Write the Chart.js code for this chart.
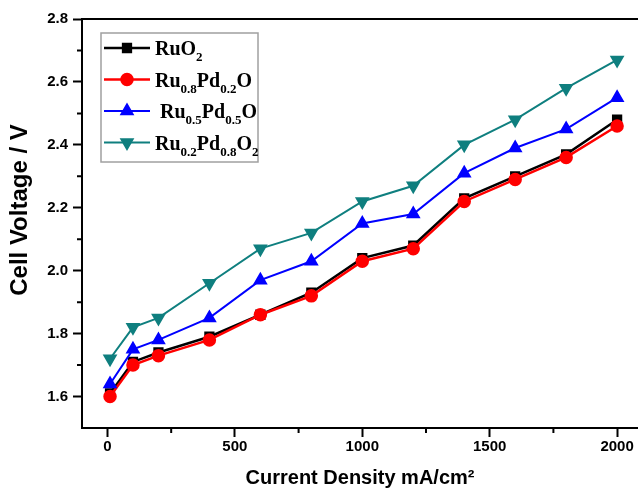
<!DOCTYPE html>
<html>
<head>
<meta charset="utf-8">
<script src="https://cdn.jsdelivr.net/npm/chart.js@4/dist/chart.umd.min.js"></script>
<style>
  html, body { margin: 0; padding: 0; background: #fff; }
  #wrap { width: 638px; height: 490px; }
</style>
</head>
<body>
<div id="wrap"><canvas id="cell"></canvas></div>
<script>
// Current density (mA/cm2)
const currentDensity = [10, 100, 200, 400, 600, 800, 1000, 1200, 1400, 1600, 1800, 2000];

// Cell voltage (V) for each catalyst
const ruO2      = [1.61, 1.71, 1.74, 1.79, 1.86, 1.93, 2.04, 2.08, 2.23, 2.30, 2.37, 2.48];
const ru08pd02  = [1.60, 1.70, 1.73, 1.78, 1.86, 1.92, 2.03, 2.07, 2.22, 2.29, 2.36, 2.46];
const ru05pd05  = [1.64, 1.75, 1.78, 1.85, 1.97, 2.03, 2.15, 2.18, 2.31, 2.39, 2.45, 2.55];
const ru02pd08  = [1.72, 1.82, 1.85, 1.96, 2.07, 2.12, 2.22, 2.27, 2.40, 2.48, 2.58, 2.67];

// tick labels
const xTicks = [0, 500, 1000, 1500, 2000];
const xMinor = [250, 750, 1250, 1750];
const yTicks = [1.6, 1.8, 2.0, 2.2, 2.4, 2.6, 2.8];
const yMinor = [1.7, 1.9, 2.1, 2.3, 2.5, 2.7];

// legend labels: [text, isSubscript]
const legendLabels = [
    [['RuO', 0], ['2', 1]],
    [['Ru', 0], ['0.8', 1], ['Pd', 0], ['0.2', 1], ['O', 0]],
    [[' Ru', 0], ['0.5', 1], ['Pd', 0], ['0.5', 1], ['O', 0]],
    [['Ru', 0], ['0.2', 1], ['Pd', 0], ['0.8', 1], ['O', 0], ['2', 1]]
];

function pts(ys) {
    return currentDensity.map((x, i) => ({ x: x, y: ys[i] }));
}

// draws minor ticks, the top frame line, the y title and the legend box
const framePlugin = {
    id: 'frame',
    afterDraw(chart) {
        const ctx = chart.ctx;
        const area = chart.chartArea;
        const xs = chart.scales.x, ys = chart.scales.y;
        ctx.save();
        ctx.strokeStyle = '#000';
        ctx.lineWidth = 2;
        ctx.beginPath();
        ctx.moveTo(area.left - 1, area.top);
        ctx.lineTo(area.right, area.top);
        xMinor.forEach(v => {
            const px = xs.getPixelForValue(v);
            ctx.moveTo(px, area.bottom);
            ctx.lineTo(px, area.bottom + 5);
        });
        yMinor.forEach(v => {
            const py = ys.getPixelForValue(v);
            ctx.moveTo(area.left, py);
            ctx.lineTo(area.left - 5, py);
        });
        ctx.stroke();

        // y axis title
        ctx.save();
        ctx.translate(20, 210);
        ctx.rotate(-Math.PI / 2);
        ctx.fillStyle = '#000';
        ctx.font = 'bold 24px "Liberation Sans"';
        ctx.textAlign = 'center';
        ctx.textBaseline = 'middle';
        ctx.fillText('Cell Voltage / V', 0, 0);
        ctx.restore();

        // legend
        const bx = 101, by = 33, bw = 157, bh = 129;
        ctx.fillStyle = '#fff';
        ctx.fillRect(bx, by, bw, bh);
        ctx.strokeStyle = '#a0a0a0';
        ctx.lineWidth = 1.5;
        ctx.strokeRect(bx, by, bw, bh);

        chart.data.datasets.forEach((ds, i) => {
            const cy = 48 + i * 31.5;
            ctx.strokeStyle = ds.borderColor;
            ctx.lineWidth = ds.borderWidth;
            ctx.beginPath();
            ctx.moveTo(104, cy);
            ctx.lineTo(150, cy);
            ctx.stroke();
            ctx.fillStyle = ds.backgroundColor;
            Chart.helpers.drawPoint(ctx, {
                pointStyle: ds.pointStyle,
                rotation: ds.pointRotation || 0,
                radius: ds.pointRadius,
                borderWidth: 1
            }, 127, cy);

            let tx = 155;
            const base = cy + 7;
            ctx.fillStyle = '#000';
            ctx.textBaseline = 'alphabetic';
            ctx.textAlign = 'left';
            legendLabels[i].forEach(seg => {
                ctx.font = seg[1] ? 'bold 13px "Liberation Serif"' : 'bold 20px "Liberation Serif"';
                ctx.fillText(seg[0], tx, seg[1] ? base + 6 : base);
                tx += ctx.measureText(seg[0]).width;
            });
        });
        ctx.restore();
    }
};

const tickFont = { family: 'Liberation Sans', size: 15, weight: 'bold' };

new Chart(document.getElementById('cell'), {
    type: 'line',
    data: {
        datasets: [
            { label: 'RuO2', data: pts(ruO2), borderColor: '#000000', backgroundColor: '#000000',
              pointStyle: 'rect', pointRadius: 5.5, borderWidth: 2.5, order: 4 },
            { label: 'Ru0.8Pd0.2O', data: pts(ru08pd02), borderColor: '#ff0000', backgroundColor: '#ff0000',
              pointStyle: 'circle', pointRadius: 5.5, borderWidth: 2.5, order: 3 },
            { label: 'Ru0.5Pd0.5O', data: pts(ru05pd05), borderColor: '#0000ff', backgroundColor: '#0000ff',
              pointStyle: 'triangle', pointRadius: 6.5, borderWidth: 2, order: 2 },
            { label: 'Ru0.2Pd0.8O2', data: pts(ru02pd08), borderColor: '#0f7f7f', backgroundColor: '#0f7f7f',
              pointStyle: 'triangle', pointRotation: 180, pointRadius: 6.5, borderWidth: 2, order: 1 }
        ]
    },
    options: {
        responsive: true,
        maintainAspectRatio: false,
        animation: false,
        layout: { autoPadding: false, padding: { top: 19, right: 0, left: 0, bottom: 0 } },
        plugins: {
            legend: { display: false },
            tooltip: { enabled: false }
        },
        elements: { line: { tension: 0 }, point: { borderWidth: 1 } },
        scales: {
            x: {
                type: 'linear',
                min: -100,
                max: 2082,
                afterBuildTicks: s => { s.ticks = xTicks.map(v => ({ value: v })); },
                afterFit: s => { s.height = 62; s.paddingLeft = 0; s.paddingRight = 0; },
                grid: { drawOnChartArea: false, drawTicks: true, tickLength: 9, tickWidth: 2, tickColor: '#000' },
                border: { display: true, color: '#000', width: 2 },
                ticks: { color: '#000', font: tickFont, padding: 1, maxRotation: 0, callback: v => String(v) },
                title: {
                    display: true,
                    text: 'Current Density mA/cm²',
                    color: '#000',
                    font: { family: 'Liberation Sans', size: 20, weight: 'bold' },
                    padding: 0
                }
            },
            y: {
                min: 1.5,
                max: 2.8,
                afterBuildTicks: s => { s.ticks = yTicks.map(v => ({ value: v })); },
                afterFit: s => { s.width = 82; s.paddingTop = 0; s.paddingBottom = 0; },
                grid: { drawOnChartArea: false, drawTicks: true, tickLength: 9, tickWidth: 2, tickColor: '#000' },
                border: { display: true, color: '#000', width: 2 },
                ticks: { color: '#000', font: tickFont, padding: 5, callback: v => v.toFixed(1) }
            }
        }
    },
    plugins: [framePlugin]
});
</script>
</body>
</html>
